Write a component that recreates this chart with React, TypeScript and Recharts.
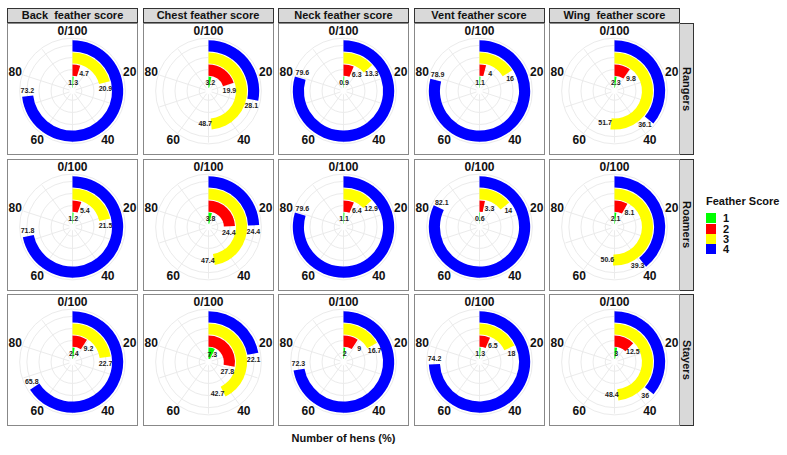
import React from 'react';
import {
  RadialBarChart,
  RadialBar,
  PolarAngleAxis,
  PolarRadiusAxis,
  PolarGrid,
  Cell,
  LabelList,
} from 'recharts';

// feather scores, drawn inside-out
const scores = ['1', '2', '3', '4'];
const scoreColors = ['#00ff00', '#ff0000', '#ffff00', '#0000ff'];

const parts = [
  'Back  feather score',
  'Chest feather score',
  'Neck feather score',
  'Vent feather score',
  'Wing  feather score',
];
const groups = ['Rangers', 'Roamers', 'Stayers'];

// % of hens per score (1..4), one list per body part
const rangers = [
  [1.3, 4.7, 20.9, 73.2],
  [3.2, 19.9, 48.7, 28.1],
  [0.9, 6.3, 13.3, 79.6],
  [1.1, 4, 16, 78.9],
  [2.3, 9.8, 51.7, 36.1],
];
const roamers = [
  [1.2, 5.4, 21.5, 71.8],
  [3.8, 24.4, 47.4, 24.4],
  [1.1, 6.4, 12.9, 79.6],
  [0.6, 3.3, 14, 82.1],
  [2.1, 8.1, 50.6, 39.3],
];
const stayers = [
  [2.4, 9.2, 22.7, 65.8],
  [7.3, 27.8, 42.7, 22.1],
  [2, 9, 16.7, 72.3],
  [1.3, 6.5, 18, 74.2],
  [3, 12.5, 48.4, 36],
];
const groupValues = [rangers, roamers, stayers];

const angleTicks = [0, 20, 40, 60, 80];
const gridTicks = [0, 10, 20, 30, 40, 50, 60, 70, 80, 90];

const FONT = '"Liberation Sans", Arial, sans-serif';

// panel geometry
const PANEL_W = 131;
const PANEL_H = 132;
const STEP = 135.5;
const LEFT = 7;
const TOP = 23;
const UNIT = 12.1; // px per score step along the radius
const rOf = (x: number) => UNIT * (x - 0.23);

const AngleTick = (props: any) => {
  const { x, y, payload } = props;
  return (
    <text
      x={x}
      y={y}
      textAnchor="middle"
      dominantBaseline="central"
      fontSize={12}
      fontWeight="bold"
      fontFamily={FONT}
      fill="#111"
    >
      {payload.value === 0 ? '0/100' : payload.value}
    </text>
  );
};

// value text sits just past the end of its arc
const ValueLabel = (props: any) => {
  const { viewBox, value } = props;
  if (!viewBox) return null;
  const { cx, cy, innerRadius, outerRadius, endAngle } = viewBox;
  const r = (innerRadius + outerRadius) / 2;
  const shift = r > 15 ? ((6 / r) * 180) / Math.PI : 0;
  const rad = (-(endAngle - shift) * Math.PI) / 180;
  return (
    <text
      x={cx + r * Math.cos(rad)}
      y={cy + r * Math.sin(rad)}
      textAnchor="middle"
      dominantBaseline="central"
      fontSize={7}
      fontWeight="bold"
      fontFamily={FONT}
      fill="#222"
    >
      {value}
    </text>
  );
};

function Panel({ values }: { values: number[] }) {
  const data = scores.map((s, i) => ({ score: s, value: values[i] }));
  return (
    <RadialBarChart
      width={PANEL_W}
      height={PANEL_H}
      data={data}
      cx={65.5}
      cy={68}
      innerRadius={rOf(0.5)}
      outerRadius={rOf(4.5)}
      startAngle={90}
      endAngle={-270}
      barSize={UNIT * 0.92}
      margin={{ top: 0, right: 0, bottom: 0, left: 0 }}
    >
      <PolarGrid
        gridType="circle"
        stroke="#ebebeb"
        polarRadius={[1, 2, 3, 4, 4.6].map(rOf)}
        polarAngles={gridTicks.map((v) => 90 - v * 3.6)}
      />
      <PolarAngleAxis
        type="number"
        domain={[0, 100]}
        ticks={angleTicks}
        tick={AngleTick}
        tickSize={8.5}
        tickLine={false}
        axisLine={false}
      />
      <PolarRadiusAxis type="category" dataKey="score" tick={false} axisLine={false} />
      <RadialBar dataKey="value" isAnimationActive={false}>
        {data.map((d, i) => (
          <Cell key={d.score} fill={scoreColors[i]} />
        ))}
        <LabelList dataKey="value" content={ValueLabel} />
      </RadialBar>
    </RadialBarChart>
  );
}

export default function App() {
  return (
    <div
      style={{
        position: 'absolute',
        left: 0,
        top: 0,
        width: 787,
        height: 455,
        background: '#fff',
        fontFamily: FONT,
      }}
    >
      {/* column strips */}
      {parts.map((p, c) => (
        <div
          key={p}
          style={{
            position: 'absolute',
            left: LEFT + c * STEP,
            top: 8,
            width: PANEL_W,
            height: 15,
            boxSizing: 'border-box',
            background: '#d9d9d9',
            border: '1px solid #333',
            fontSize: 11,
            fontWeight: 'bold',
            lineHeight: '13px',
            textAlign: 'center',
            whiteSpace: 'pre',
            color: '#111',
          }}
        >
          {p}
        </div>
      ))}

      {/* row strips */}
      {groups.map((g, r) => (
        <div
          key={g}
          style={{
            position: 'absolute',
            left: LEFT + 4 * STEP + PANEL_W - 1,
            top: TOP + r * STEP,
            width: 15,
            height: PANEL_H,
            boxSizing: 'border-box',
            background: '#d9d9d9',
            border: '1px solid #333',
            display: 'flex',
            alignItems: 'center',
            justifyContent: 'center',
          }}
        >
          <span
            style={{
              writingMode: 'vertical-rl',
              fontSize: 11,
              fontWeight: 'bold',
              color: '#111',
            }}
          >
            {g}
          </span>
        </div>
      ))}

      {/* panels */}
      {groupValues.map((rows, r) =>
        rows.map((vals, c) => (
          <div
            key={`${r}-${c}`}
            style={{
              position: 'absolute',
              left: LEFT + c * STEP,
              top: TOP + r * STEP,
              width: PANEL_W,
              height: PANEL_H,
              boxSizing: 'border-box',
              border: '1px solid #888',
              background: '#fff',
            }}
          >
            <div style={{ position: 'absolute', left: -1, top: -1 }}>
              <Panel values={vals} />
            </div>
          </div>
        ))
      )}

      {/* x title */}
      <div
        style={{
          position: 'absolute',
          left: LEFT,
          width: 4 * STEP + PANEL_W,
          top: 432,
          textAlign: 'center',
          fontSize: 11,
          fontWeight: 'bold',
          color: '#111',
        }}
      >
        Number of hens (%)
      </div>

      {/* legend */}
      <div style={{ position: 'absolute', left: 706, top: 195 }}>
        <div style={{ fontSize: 11, fontWeight: 'bold', color: '#111', marginBottom: 6 }}>
          Feather Score
        </div>
        {scores.map((s, i) => (
          <div key={s} style={{ display: 'flex', alignItems: 'center', height: 10.4 }}>
            <div
              style={{
                width: 10,
                height: 10,
                background: scoreColors[i],
                marginRight: 7,
              }}
            />
            <span style={{ fontSize: 11, fontWeight: 'bold', color: '#111', lineHeight: '10px' }}>
              {s}
            </span>
          </div>
        ))}
      </div>
    </div>
  );
}
